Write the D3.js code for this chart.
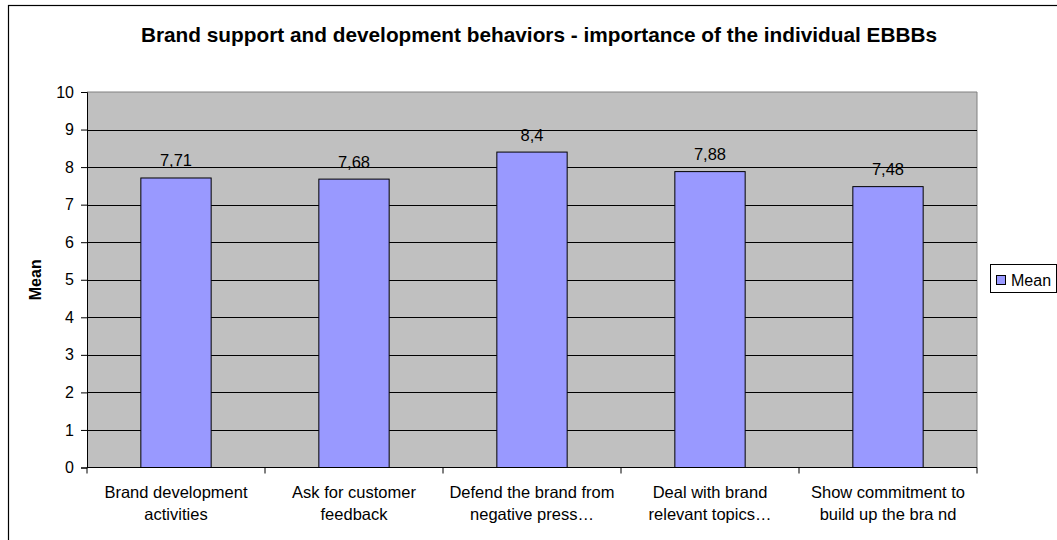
<!DOCTYPE html>
<html>
<head>
<meta charset="utf-8">
<script src="https://cdn.jsdelivr.net/npm/d3@7/dist/d3.min.js"></script>
<style>
  html, body { margin: 0; padding: 0; background: #fff; }
  svg { display: block; font-family: "Liberation Sans", Arial, sans-serif; }
</style>
</head>
<body>
<svg id="chart" width="1057" height="540"></svg>
<script>
// Chart data
const title = "Brand support and development behaviors - importance of the individual EBBBs";
const categories = [
  ["Brand development", "activities"],
  ["Ask for customer", "feedback"],
  ["Defend the brand from", "negative press…"],
  ["Deal with brand", "relevant topics…"],
  ["Show commitment to", "build up the bra nd"]
];
const meanValues = [7.71, 7.68, 8.4, 7.88, 7.48];
const valueLabels = ["7,71", "7,68", "8,4", "7,88", "7,48"];
const yTicks = [0, 1, 2, 3, 4, 5, 6, 7, 8, 9, 10];
const seriesName = "Mean";
const yAxisTitle = "Mean";

const svg = d3.select("#chart");
const plot = { left: 87, right: 977, top: 92, bottom: 467.5 };

// Outer chart frame
svg.append("rect")
  .attr("x", 8.5).attr("y", 5.5)
  .attr("width", 1100).attr("height", 600)
  .attr("fill", "#fff").attr("stroke", "#000").attr("stroke-width", 1.2);

const x = d3.scaleBand()
  .domain(d3.range(categories.length))
  .range([plot.left, plot.right])
  .paddingInner(0.605).paddingOuter(0.3025);

const y = d3.scaleLinear().domain([0, 10]).range([plot.bottom, plot.top]);

// Plot background
svg.append("rect")
  .attr("x", plot.left).attr("y", plot.top)
  .attr("width", plot.right - plot.left).attr("height", plot.bottom - plot.top)
  .attr("fill", "#c0c0c0");

// Plot border (top/right)
svg.append("path")
  .attr("d", `M${plot.left},${plot.top}H${plot.right}V${plot.bottom}`)
  .attr("fill", "none").attr("stroke", "#808080").attr("stroke-width", 1);

// Gridlines
svg.append("g").selectAll("line")
  .data(yTicks.filter(t => t > 0 && t < 10))
  .join("line")
  .attr("x1", plot.left).attr("x2", plot.right)
  .attr("y1", d => Math.round(y(d)) + 0.5).attr("y2", d => Math.round(y(d)) + 0.5)
  .attr("stroke", "#000").attr("stroke-width", 1);

// Bars
svg.append("g").selectAll("rect")
  .data(meanValues)
  .join("rect")
  .attr("x", (d, i) => x(i))
  .attr("y", d => y(d))
  .attr("width", x.bandwidth())
  .attr("height", d => y(0) - y(d))
  .attr("fill", "#9999ff")
  .attr("stroke", "#000").attr("stroke-width", 1);

// Value labels
svg.append("g").selectAll("text")
  .data(meanValues)
  .join("text")
  .attr("x", (d, i) => x(i) + x.bandwidth() / 2)
  .attr("y", d => y(d) - 11.5)
  .attr("text-anchor", "middle")
  .attr("font-size", 16.5)
  .attr("fill", "#000")
  .text((d, i) => valueLabels[i]);

// Y axis
const yAxis = d3.axisLeft(y).tickValues(yTicks).tickSize(6).tickPadding(7).tickFormat(d3.format("d"));
const gy = svg.append("g").attr("transform", `translate(${plot.left},0)`).call(yAxis);
gy.select(".domain").attr("stroke", "#000");
gy.selectAll(".tick line").attr("stroke", "#000");
gy.selectAll(".tick text").attr("font-size", 16).attr("fill", "#000")
  .attr("font-family", "Liberation Sans, Arial, sans-serif");

// X axis with category separators
const xAxisG = svg.append("g").attr("transform", `translate(0,${plot.bottom})`);
xAxisG.append("line")
  .attr("x1", plot.left).attr("x2", plot.right)
  .attr("stroke", "#000");
const step = (plot.right - plot.left) / categories.length;
xAxisG.selectAll(".sep")
  .data(d3.range(categories.length + 1))
  .join("line")
  .attr("x1", i => plot.left + i * step).attr("x2", i => plot.left + i * step)
  .attr("y1", 0).attr("y2", 6)
  .attr("stroke", "#000");

// Category labels (two lines)
const catG = svg.append("g");
categories.forEach((lines, i) => {
  const t = catG.append("text")
    .attr("x", x(i) + x.bandwidth() / 2)
    .attr("y", 498)
    .attr("text-anchor", "middle")
    .attr("font-size", 16.5)
    .attr("fill", "#000");
  lines.forEach((ln, j) => {
    t.append("tspan")
      .attr("x", x(i) + x.bandwidth() / 2)
      .attr("dy", j === 0 ? 0 : 21.6)
      .text(ln);
  });
});

// Y axis title
svg.append("text")
  .attr("transform", `translate(41,${(plot.top + plot.bottom) / 2}) rotate(-90)`)
  .attr("text-anchor", "middle")
  .attr("font-size", 16).attr("font-weight", "bold")
  .text(yAxisTitle);

// Chart title
svg.append("text")
  .attr("x", 539).attr("y", 42)
  .attr("text-anchor", "middle")
  .attr("font-size", 20.8).attr("font-weight", "bold")
  .text(title);

// Legend
const legend = svg.append("g");
legend.append("rect")
  .attr("x", 990.5).attr("y", 264.5).attr("width", 66).attr("height", 28)
  .attr("fill", "#fff").attr("stroke", "#000");
legend.append("rect")
  .attr("x", 996.5).attr("y", 275.5).attr("width", 9).attr("height", 9)
  .attr("fill", "#9999ff").attr("stroke", "#000");
legend.append("text")
  .attr("x", 1011).attr("y", 286)
  .attr("font-size", 16)
  .text(seriesName);
</script>
</body>
</html>
